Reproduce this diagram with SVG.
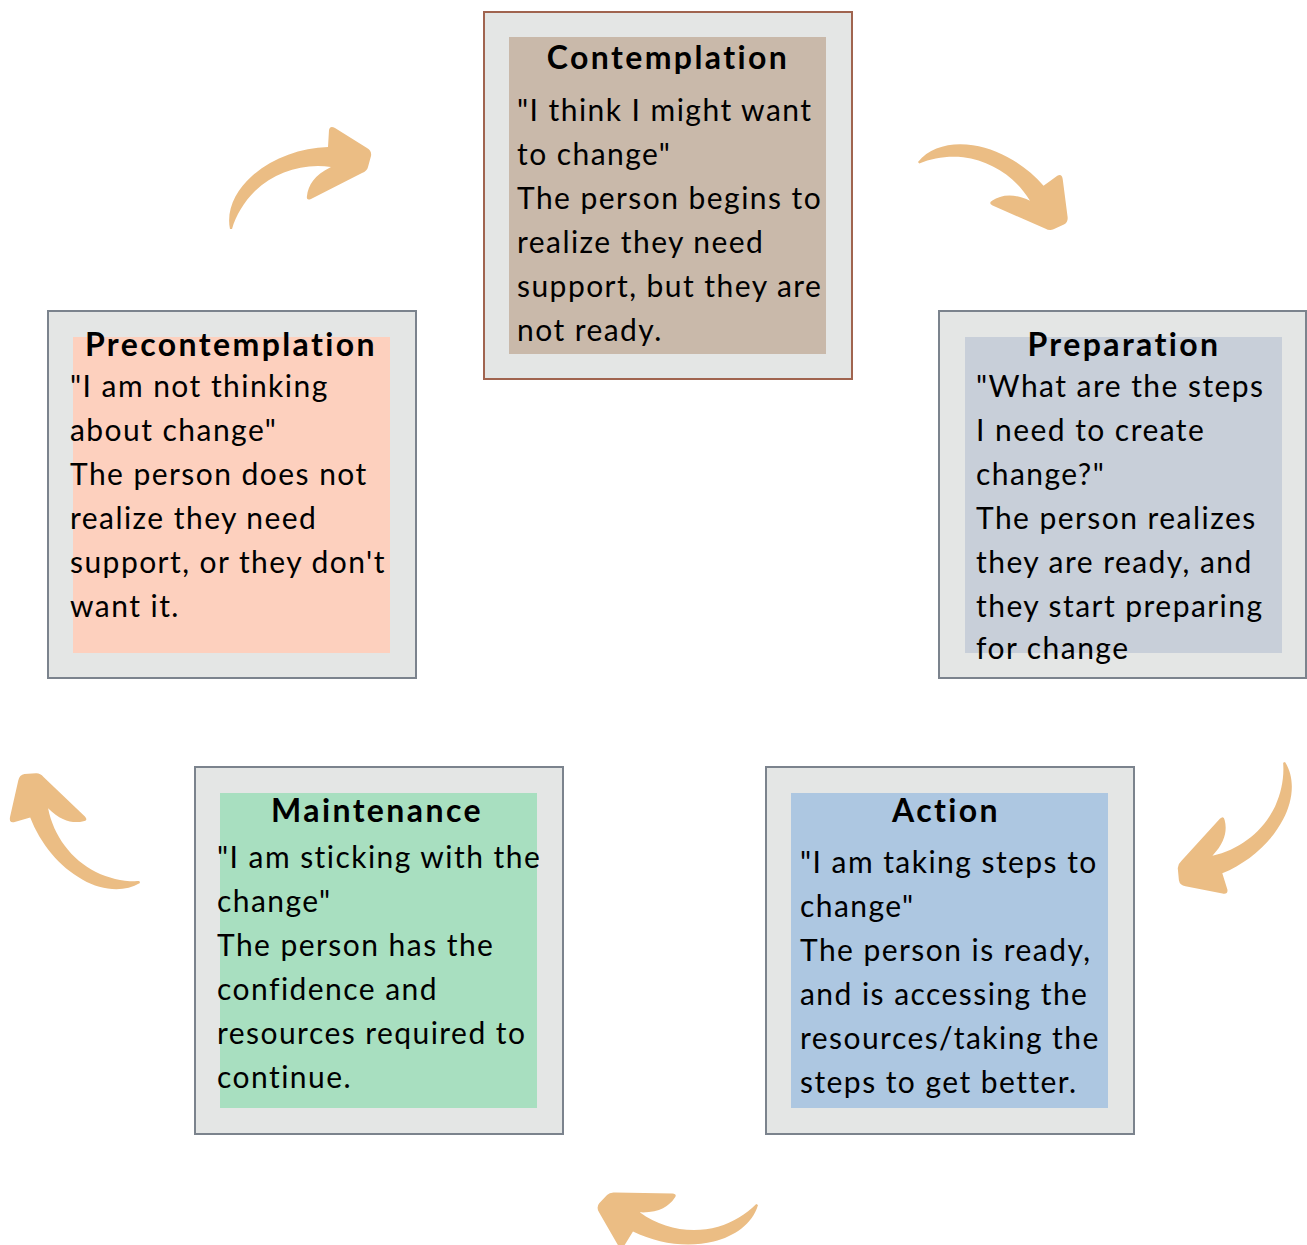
<svg xmlns="http://www.w3.org/2000/svg" xmlns:xlink="http://www.w3.org/1999/xlink" width="1307" height="1245" viewBox="0 0 1307 1245">
  <style>
    .frame { fill: #e4e6e5; stroke: #7b838d; stroke-width: 2; }
    .frame.brown { stroke: #a0644f; }
    .title { font-family: "Lato", "Liberation Sans", sans-serif; font-weight: 700; font-size: 32px; fill: #000; text-anchor: middle; letter-spacing: 2.4px; }
    .body { font-family: "Lato", "Liberation Sans", sans-serif; font-size: 30px; fill: #000; letter-spacing: 1.45px; }
    .arrow { fill: #ebbd84; }
  </style>
  <defs>
    <!-- curved hand-drawn style arrow, tail near (230,229), head pointing right -->
    <path id="curl" class="arrow" d="M230,229 C226,210 236,190 252,176 C272,158 300,148 328,147 L329,130 Q330,125 335,128 L367,148 Q372,151 371,156 L368,167 Q367,171 362,173 L311,199 Q306,201 307,196 C308,186 314,175 331,167 C303,163 275,172 255,191 C244,202 236,215 232,229 Z"/>
  </defs>

  <rect width="1307" height="1245" fill="#ffffff"/>

  <g id="connectors">
    <use xlink:href="#curl"/>
    <use xlink:href="#curl" transform="translate(918,162) rotate(50.6) translate(-230,-229)"/>
    <use xlink:href="#curl" transform="translate(1285,762) rotate(159.3) translate(-230,-229)"/>
    <use xlink:href="#curl" transform="translate(758,1205) rotate(208) translate(-230,-229)"/>
    <use xlink:href="#curl" transform="translate(140,883) rotate(250.7) translate(-230,-229)"/>
  </g>

  <g id="contemplation">
    <rect class="frame brown" x="484" y="12" width="368" height="367"/>
    <rect x="509" y="37" width="317" height="317" fill="#c9b9aa"/>
    <text class="title" x="668" y="69">Contemplation</text>
    <text class="body">
      <tspan x="517" y="121">"I think I might want</tspan>
      <tspan x="517" y="165">to change"</tspan>
      <tspan x="517" y="209">The person begins to</tspan>
      <tspan x="517" y="253">realize they need</tspan>
      <tspan x="517" y="297">support, but they are</tspan>
      <tspan x="517" y="341">not ready.</tspan>
    </text>
  </g>

  <g id="precontemplation">
    <rect class="frame" x="48" y="311" width="368" height="367"/>
    <rect x="73" y="337" width="317" height="316" fill="#fdd0be"/>
    <text class="title" x="231" y="356">Precontemplation</text>
    <text class="body">
      <tspan x="70" y="397">"I am not thinking</tspan>
      <tspan x="70" y="441">about change"</tspan>
      <tspan x="70" y="485">The person does not</tspan>
      <tspan x="70" y="529">realize they need</tspan>
      <tspan x="70" y="573">support, or they don't</tspan>
      <tspan x="70" y="617">want it.</tspan>
    </text>
  </g>

  <g id="preparation">
    <rect class="frame" x="939" y="311" width="367" height="367"/>
    <rect x="965" y="337" width="317" height="316" fill="#c8cfd9"/>
    <text class="title" x="1124" y="356">Preparation</text>
    <text class="body">
      <tspan x="976" y="397">"What are the steps</tspan>
      <tspan x="976" y="441">I need to create</tspan>
      <tspan x="976" y="485">change?"</tspan>
      <tspan x="976" y="529">The person realizes</tspan>
      <tspan x="976" y="573">they are ready, and</tspan>
      <tspan x="976" y="617">they start preparing</tspan>
      <tspan x="976" y="659">for change</tspan>
    </text>
  </g>

  <g id="maintenance">
    <rect class="frame" x="195" y="767" width="368" height="367"/>
    <rect x="220" y="793" width="317" height="315" fill="#a8dfc0"/>
    <text class="title" x="377" y="822">Maintenance</text>
    <text class="body">
      <tspan x="217" y="868">"I am sticking with the</tspan>
      <tspan x="217" y="912">change"</tspan>
      <tspan x="217" y="956">The person has the</tspan>
      <tspan x="217" y="1000">confidence and</tspan>
      <tspan x="217" y="1044">resources required to</tspan>
      <tspan x="217" y="1088">continue.</tspan>
    </text>
  </g>

  <g id="action">
    <rect class="frame" x="766" y="767" width="368" height="367"/>
    <rect x="791" y="793" width="317" height="315" fill="#adc7e1"/>
    <text class="title" x="946" y="822">Action</text>
    <text class="body">
      <tspan x="800" y="873">"I am taking steps to</tspan>
      <tspan x="800" y="917">change"</tspan>
      <tspan x="800" y="961">The person is ready,</tspan>
      <tspan x="800" y="1005">and is accessing the</tspan>
      <tspan x="800" y="1049">resources/taking the</tspan>
      <tspan x="800" y="1093">steps to get better.</tspan>
    </text>
  </g>
</svg>
